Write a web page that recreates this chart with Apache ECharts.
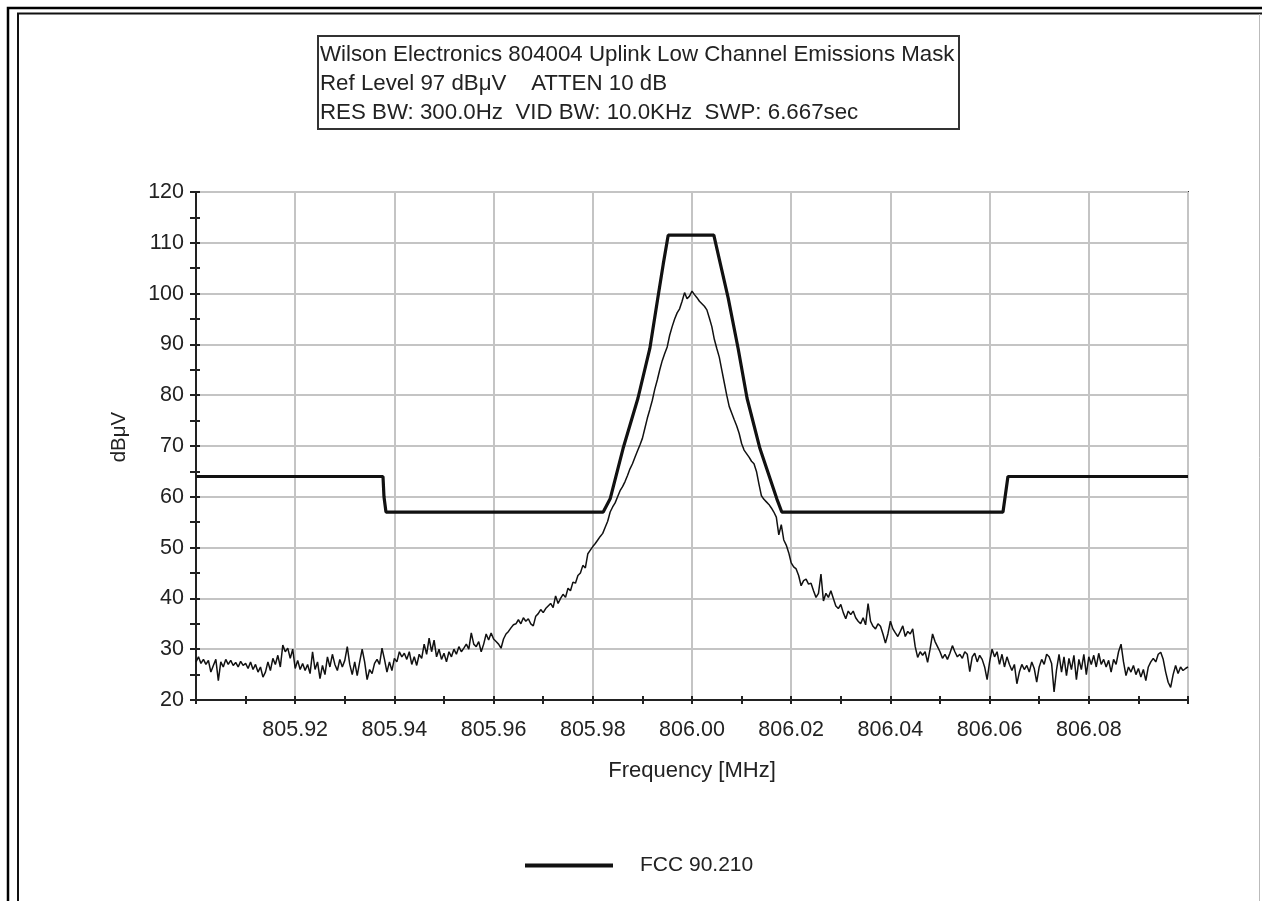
<!DOCTYPE html>
<html>
<head>
<meta charset="utf-8">
<title>Uplink Low Channel Emissions Mask</title>
<script src="https://cdn.jsdelivr.net/npm/echarts@6/dist/echarts.min.js"></script>
<style>
	html, body { margin: 0; padding: 0; background: #fff; }
	#chart { width: 1262px; height: 901px; }
</style>
</head>
<body>
<div id="chart"></div>
<script>
// sweep settings of the analyzer trace (401 points over 0.2 MHz)
const sweepStart = 805.9;
const sweepStep = 0.0005;

// measured trace, dBuV
const traceLevel = [
	27.5, 28.5, 27.2, 28.0, 27.0, 27.8, 25.5, 26.8, 28.0, 23.8,
	27.5, 26.5, 28.0, 27.0, 27.8, 26.8, 27.4, 26.5, 27.6, 26.8,
	27.2, 26.2, 27.5, 26.0, 27.0, 25.5, 26.5, 24.5, 25.5, 27.5,
	25.8, 28.2, 27.0, 28.8, 26.5, 30.8, 29.5, 30.2, 28.2, 30.0,
	26.2, 27.8, 26.0, 27.2, 25.8, 27.0, 25.2, 29.5, 26.0, 27.5,
	24.2, 26.8, 25.0, 28.5, 26.5, 29.0, 27.0, 25.8, 28.0, 26.5,
	27.8, 30.5, 27.0, 25.0, 27.5, 24.8, 27.5, 30.0, 27.5, 24.0,
	26.0, 25.2, 27.2, 28.0, 27.0, 30.2, 28.0, 25.5, 27.5, 25.8,
	28.2, 27.5, 29.5, 28.5, 29.2, 28.0, 29.5, 27.0, 28.5, 26.8,
	29.0, 28.2, 31.0, 29.0, 32.2, 29.5, 31.8, 28.5, 30.0,
	28.0, 29.2, 27.5, 29.5, 28.5, 30.0, 29.0, 30.5, 29.5, 30.2,
	31.0, 30.0, 33.2, 31.0, 30.5, 31.5, 29.5, 31.0, 33.0, 31.8,
	33.2, 32.0, 31.5, 31.0, 30.2, 32.0, 33.0, 33.5, 34.2, 34.8,
	35.0, 35.8, 35.0, 36.2, 35.5, 36.0, 35.0, 34.6, 36.5, 37.0,
	37.8, 37.2, 38.0, 38.5, 39.0, 38.2, 40.5, 39.0,
	40.0, 40.8, 40.2, 42.0, 41.5, 43.2, 43.0, 44.5, 45.0, 46.5,
	46.0, 48.8, 49.5, 50.2, 50.8, 51.5, 52.2, 52.8, 54.0, 55.2,
	57.0, 58.0, 58.8, 60.0, 61.2, 62.0, 63.0, 64.2, 65.5, 66.5,
	67.8, 69.0, 70.2, 71.5, 73.5, 75.5, 77.2, 79.0, 81.2, 83.0,
	85.0, 86.8, 88.2, 89.5, 91.8, 93.5, 95.0, 96.2, 97.0, 98.5,
	100.2, 99.0, 99.5, 100.5, 99.8, 99.2, 98.5, 98.0, 97.5, 96.8,
	95.2, 93.5, 91.0, 89.2, 87.5, 85.0, 82.5, 80.0, 77.8, 76.5,
	75.2, 74.0, 72.5, 70.5, 69.2, 68.5, 67.8, 67.0, 66.5, 65.0,
	62.5, 60.2, 59.5, 59.0, 58.5, 57.8, 57.0, 56.0, 52.5, 54.5,
	51.5, 50.5, 49.0, 47.0, 46.2, 45.8, 44.5, 42.5, 43.5, 43.8,
	42.8, 43.0, 41.5, 40.2, 41.0, 44.8, 39.5, 41.0, 40.2, 41.5,
	40.0, 38.5, 38.0, 38.8, 37.2, 36.0, 37.5, 36.8, 37.5, 36.2,
	35.5, 35.0, 36.2, 34.8, 39.0, 35.5, 34.5, 34.0, 35.0, 34.5,
	33.0, 31.2, 33.0, 35.5, 34.0, 33.2, 32.5, 33.5, 34.6, 32.5,
	33.5, 33.0, 34.0, 30.5, 28.4, 29.5, 28.8, 29.5, 27.4, 30.0,
	33.0, 31.5, 30.5, 29.5,
	28.2, 29.0, 28.0, 29.2, 30.7, 29.5, 28.5, 29.0, 28.2, 29.5,
	29.0, 25.6, 28.5, 29.2, 27.5, 28.8, 28.0, 26.5, 24.0, 27.5,
	30.0, 28.5, 29.5, 27.0, 29.0, 26.5, 28.5, 27.0, 25.8, 27.0,
	23.2, 25.5, 27.0, 26.0, 26.8, 25.5, 27.5, 26.2, 23.5, 26.5,
	28.0, 27.0, 29.0, 28.5, 27.2, 21.6, 26.0, 29.0, 25.5, 28.5,
	24.8, 28.2, 26.0, 28.8, 24.0, 28.0, 26.0, 29.0, 25.0, 28.5,
	27.0, 28.8, 26.5, 29.2, 27.0, 28.0, 26.5, 27.8, 25.5, 28.0,
	27.0, 29.5, 31.0, 27.5, 24.8, 26.5, 25.5, 26.8, 25.0, 26.2,
	24.5, 26.0, 23.8, 26.5, 27.5, 28.2, 27.5, 29.0, 29.4, 28.0,
	25.5, 23.5, 22.5, 25.0, 26.8, 25.2, 26.5, 25.8, 26.2, 26.5
];

// FCC 90.210 emission mask corners
const maskFreq = [
	805.9, 805.9377, 805.9379, 805.9383, 805.9821, 805.9835, 805.9861,
	805.9891, 805.9915, 805.9931, 805.9942, 805.9952, 806.0044, 806.0058,
	806.0073, 806.0093, 806.0111, 806.0137, 806.0171, 806.0181, 806.0627,
	806.0637, 806.1
];
const maskLevel = [
	64, 64, 60, 57, 57, 59.6, 69.5,
	79.4, 89.2, 99.1, 105.8, 111.5, 111.5, 105.5,
	99.1, 89.2, 79.4, 69.5, 59.6, 57, 57,
	64, 64
];

const titleLines = [
	"Wilson Electronics 804004 Uplink Low Channel Emissions Mask",
	"Ref Level 97 dB\u03bcV    ATTEN 10 dB",
	"RES BW: 300.0Hz  VID BW: 10.0KHz  SWP: 6.667sec"
];

const font = "'Liberation Sans', Arial, sans-serif";

const traceData = traceLevel.map((v, i) => [+(sweepStart + i * sweepStep).toFixed(4), v]);
const maskData = maskFreq.map((f, i) => [f, maskLevel[i]]);

const chart = echarts.init(document.getElementById("chart"), null, { renderer: "canvas" });

const xBase = {
	type: "value",
	min: 805.9,
	max: 806.1,
	interval: 0.02,
};
const yBase = {
	type: "value",
	min: 20,
	max: 120,
	interval: 10,
};

const option = {
	animation: false,
	backgroundColor: "#fff",
	textStyle: { fontFamily: font, color: "#222" },
	title: {
		text: titleLines.join("\n"),
		left: 318,
		top: 36,
		padding: [4, 5, 2, 2],
		borderColor: "#333",
		borderWidth: 2,
		textStyle: {
			fontFamily: font,
			fontSize: 22.3,
			fontWeight: "normal",
			color: "#222",
			lineHeight: 29,
		},
	},
	legend: {
		data: ["FCC 90.210"],
		left: 520,
		top: 850,
		icon: "rect",
		itemWidth: 88,
		itemHeight: 4,
		textStyle: { fontFamily: font, fontSize: 21, color: "#222", padding: [0, 0, 0, 22] },
	},
	grid: {
		left: 196,
		right: 74,
		top: 192,
		bottom: 201,
		show: true,
		borderColor: "#333",
		borderWidth: 2,
	},
	xAxis: [
		Object.assign({}, xBase, {
			name: "Frequency [MHz]",
			nameLocation: "middle",
			nameGap: 60,
			nameTextStyle: { fontFamily: font, fontSize: 22, color: "#222" },
			axisLine: { lineStyle: { color: "#222", width: 2 } },
			axisTick: { show: true, length: 4, lineStyle: { color: "#222", width: 2 } },
			minorTick: { show: true, splitNumber: 2, length: 4, lineStyle: { color: "#222", width: 2 } },
			axisLabel: {
				margin: 19,
				fontSize: 21.5,
				color: "#222",
				showMinLabel: false,
				showMaxLabel: false,
				formatter: (v) => v.toFixed(2),
			},
			splitLine: { show: true, lineStyle: { color: "#c4c4c4", width: 2 } },
		}),
		// second copy only for the inner half of the crossing ticks
		Object.assign({}, xBase, {
			position: "bottom",
			axisLine: { show: false },
			axisTick: { show: true, inside: true, length: 4, lineStyle: { color: "#222", width: 2 } },
			minorTick: { show: true, splitNumber: 2, length: 4, lineStyle: { color: "#222", width: 2 } },
			axisLabel: { show: false },
			splitLine: { show: false },
		}),
	],
	yAxis: [
		Object.assign({}, yBase, {
			name: "dB\u03bcV",
			nameLocation: "middle",
			nameGap: 66,
			nameTextStyle: { fontFamily: font, fontSize: 20.5, color: "#222", padding: [0, 0, 0, 18] },
			axisLine: { show: true, lineStyle: { color: "#222", width: 2 } },
			axisTick: { show: true, length: 6, lineStyle: { color: "#222", width: 2 } },
			minorTick: { show: true, splitNumber: 2, length: 6, lineStyle: { color: "#222", width: 2 } },
			axisLabel: { margin: 12, fontSize: 21.5, color: "#222" },
			splitLine: { show: true, lineStyle: { color: "#c4c4c4", width: 2 } },
		}),
		Object.assign({}, yBase, {
			position: "left",
			axisLine: { show: false },
			axisTick: { show: true, inside: true, length: 4, lineStyle: { color: "#222", width: 2 } },
			minorTick: { show: true, splitNumber: 2, length: 4, lineStyle: { color: "#222", width: 2 } },
			axisLabel: { show: false },
			splitLine: { show: false },
		}),
	],
	graphic: [
		// photo frame around the whole picture
		{ type: "rect", shape: { x: 8, y: 8, width: 1300, height: 1000 }, style: { fill: "none", stroke: "#000", lineWidth: 2.5 }, silent: true },
		{ type: "polyline", shape: { points: [[18, 920], [18, 13.5], [1262, 13.5]] }, style: { fill: "none", stroke: "#111", lineWidth: 2 }, silent: true },
		{ type: "line", shape: { x1: 1259.5, y1: 14, x2: 1259.5, y2: 901 }, style: { stroke: "#bbb", lineWidth: 1 }, silent: true },
	],
	series: [
		{
			name: "FCC 90.210",
			type: "line",
			data: maskData,
			symbol: "none",
			lineStyle: { color: "#111", width: 3.2 },
			itemStyle: { color: "#111" },
			z: 3,
		},
		{
			name: "Measured",
			type: "line",
			data: traceData,
			symbol: "none",
			lineStyle: { color: "#111", width: 1.5 },
			itemStyle: { color: "#111" },
			z: 2,
		},
	],
};

chart.setOption(option);
</script>
</body>
</html>
